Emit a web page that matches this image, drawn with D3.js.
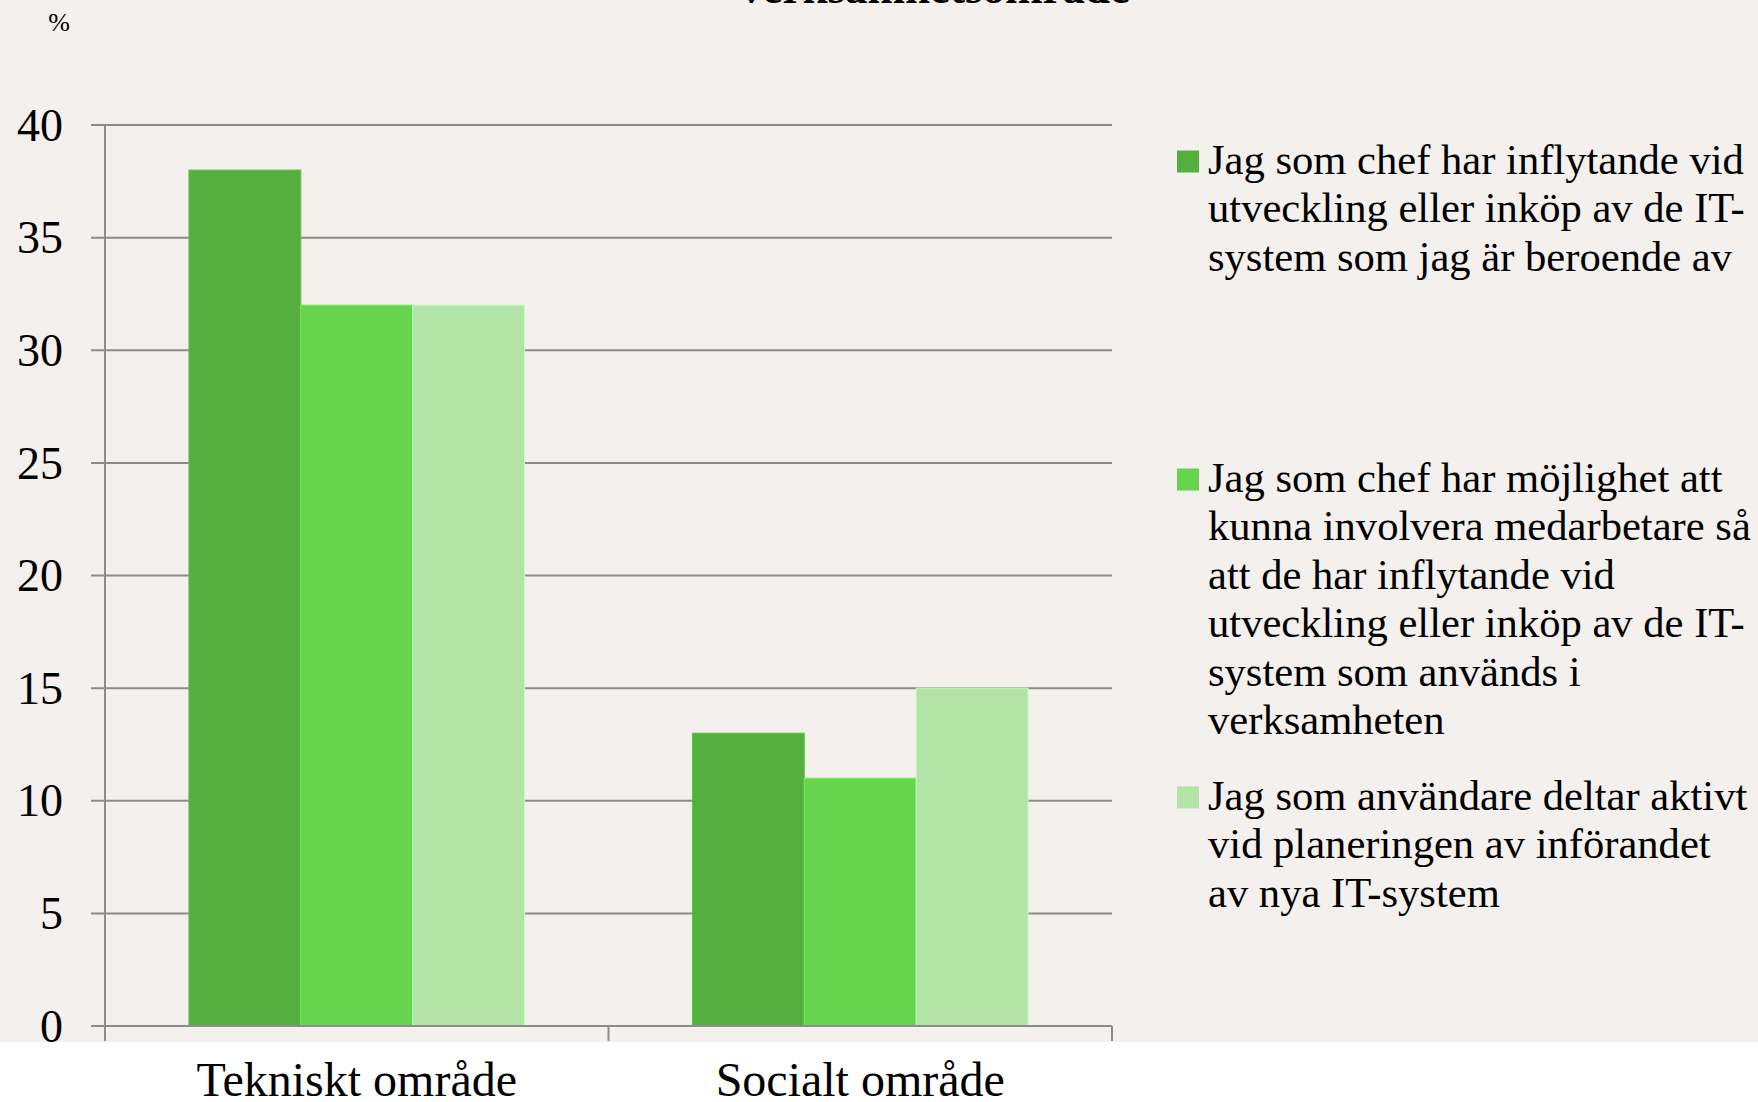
<!DOCTYPE html>
<html>
<head>
<meta charset="utf-8">
<script src="https://cdn.jsdelivr.net/npm/d3@7"></script>
<style>
  html, body { margin: 0; padding: 0; background: #ffffff; }
  svg { display: block; font-family: "Liberation Serif", "Times New Roman", serif; }
</style>
</head>
<body>
<div id="chart"></div>
<script>
// data
const categories = ["Tekniskt område", "Socialt område"];
const seriesNames = ["s1", "s2", "s3"];
const series1 = [38, 13];
const series2 = [32, 11];
const series3 = [32, 15];
const yTicks = [0, 5, 10, 15, 20, 25, 30, 35, 40];
const legendLines = [
  ["Jag som chef har inflytande vid", "utveckling eller inköp av de IT-", "system som jag är beroende av"],
  ["Jag som chef har möjlighet att", "kunna involvera medarbetare så", "att de har inflytande vid",
   "utveckling eller inköp av de IT-", "system som används i", "verksamheten"],
  ["Jag som användare deltar aktivt", "vid planeringen av införandet", "av nya IT-system"]
];
const colors = ["#54af3e", "#66d44c", "#b2e4a8"];
const titleText = "verksamhetsområde";

const W = 1758, H = 1102;
const svg = d3.select("#chart").append("svg")
  .attr("width", W).attr("height", H);

// backgrounds: beige chart area, white strip at bottom
svg.append("rect").attr("width", W).attr("height", H).attr("fill", "#ffffff");
svg.append("rect").attr("width", W).attr("height", 1042).attr("fill", "#f3f0ed");

const plotLeft = 105, plotRight = 1112, plotTop = 125, plotBottom = 1026;

const x0 = d3.scaleBand().domain(categories).range([plotLeft, plotRight]).padding(0);
const x1 = d3.scaleBand().domain(seriesNames).range([0, x0.bandwidth()])
  .paddingInner(0).paddingOuter(0.75);
const y = d3.scaleLinear().domain([0, 40]).range([plotBottom, plotTop]);

// gridlines with outer ticks
svg.append("g")
  .selectAll("line")
  .data(yTicks)
  .join("line")
  .attr("x1", plotLeft - 14).attr("x2", plotRight)
  .attr("y1", d => y(d)).attr("y2", d => y(d))
  .attr("stroke", "#8c8c8c").attr("stroke-width", 2);

// y labels
svg.append("g")
  .selectAll("text")
  .data(yTicks)
  .join("text")
  .attr("x", 63).attr("y", d => y(d))
  .attr("dy", "0.34em")
  .attr("text-anchor", "end")
  .attr("font-size", 46)
  .attr("fill", "#000")
  .text(d => d);

// bars
const rows = categories.map((c, i) => ({cat: c, vals: [series1[i], series2[i], series3[i]]}));
const groups = svg.append("g").selectAll("g")
  .data(rows)
  .join("g")
  .attr("transform", d => `translate(${x0(d.cat)},0)`);

groups.selectAll("rect")
  .data(d => d.vals.map((v, k) => ({k, v})))
  .join("rect")
  .attr("x", d => x1(seriesNames[d.k]))
  .attr("width", x1.bandwidth())
  .attr("y", d => y(d.v))
  .attr("height", d => y(0) - y(d.v))
  .attr("fill", d => colors[d.k])
  .attr("stroke", d => d3.color(colors[d.k]).brighter(0.3))
  .attr("stroke-width", 1);

// axes lines drawn over bars
svg.append("line")
  .attr("x1", plotLeft).attr("x2", plotLeft)
  .attr("y1", plotTop).attr("y2", 1041)
  .attr("stroke", "#8c8c8c").attr("stroke-width", 2);
svg.append("line")
  .attr("x1", plotLeft - 14).attr("x2", plotRight)
  .attr("y1", y(0)).attr("y2", y(0))
  .attr("stroke", "#8c8c8c").attr("stroke-width", 2);
// category ticks
const catEdges = categories.map(c => x0(c) + x0.bandwidth());
svg.append("g").selectAll("line")
  .data(catEdges)
  .join("line")
  .attr("x1", d => d).attr("x2", d => d)
  .attr("y1", y(0)).attr("y2", 1041)
  .attr("stroke", "#8c8c8c").attr("stroke-width", 2);

// category labels
svg.append("g").selectAll("text")
  .data(categories)
  .join("text")
  .attr("x", d => x0(d) + x0.bandwidth() / 2)
  .attr("y", 1096)
  .attr("text-anchor", "middle")
  .attr("font-size", 48)
  .attr("fill", "#000")
  .text(d => d);

// unit label and clipped title
svg.append("text")
  .attr("x", 59).attr("y", 31)
  .attr("text-anchor", "middle")
  .attr("font-size", 26)
  .text("%");

svg.append("text")
  .attr("x", 935).attr("y", 3)
  .attr("text-anchor", "middle")
  .attr("font-size", 45)
  .attr("font-weight", "bold")
  .text(titleText);

// legend
const legend = svg.append("g").selectAll("g")
  .data(legendLines)
  .join("g")
  .attr("transform", (d, i) => `translate(1177,${173.5 + i * 318})`);

legend.append("rect")
  .attr("x", 0).attr("y", -23)
  .attr("width", 22).attr("height", 22)
  .attr("fill", (d, i) => colors[i]);

legend.append("text")
  .attr("font-size", 42.6)
  .attr("fill", "#000")
  .selectAll("tspan")
  .data(d => d)
  .join("tspan")
  .attr("x", 31)
  .attr("y", (d, j) => j * 48.5)
  .text(d => d);
</script>
</body>
</html>
